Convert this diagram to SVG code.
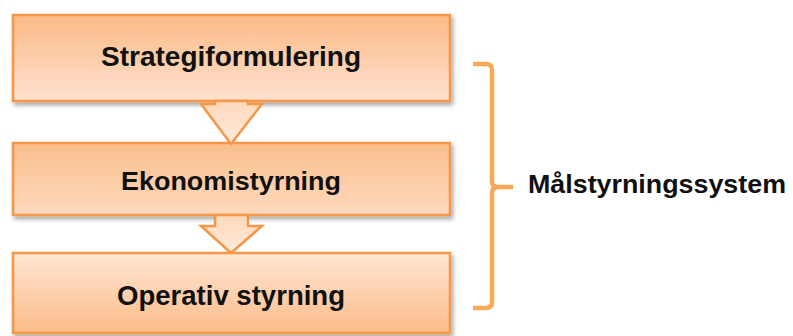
<svg xmlns="http://www.w3.org/2000/svg" width="793" height="336" viewBox="0 0 793 336">
  <style>
    .box { stroke: #F79646; stroke-width: 2.5; filter: url(#sh); }
    .arrow { fill: url(#ga); stroke: #F79646; stroke-width: 2.5; stroke-linejoin: miter; }
    .lbl { font-family: "Liberation Sans", Arial, sans-serif; font-weight: bold; fill: #111; text-anchor: middle; }
    .brace { fill: none; stroke: #F9A856; stroke-width: 4.5; stroke-linecap: butt; stroke-linejoin: round; }
  </style>
  <defs>
    <filter id="sh" x="-5%" y="-10%" width="115%" height="130%">
      <feDropShadow dx="2" dy="3" stdDeviation="2" flood-color="#000" flood-opacity="0.35"/>
    </filter>
    <linearGradient id="g1" x1="0" y1="0" x2="0" y2="1">
      <stop offset="0" stop-color="#FCBA85"/>
      <stop offset="1" stop-color="#FEE2CF"/>
    </linearGradient>
    <linearGradient id="g2" x1="0" y1="0" x2="0" y2="1">
      <stop offset="0" stop-color="#FBBE8C"/>
      <stop offset="1" stop-color="#FDDABF"/>
    </linearGradient>
    <linearGradient id="g3" x1="0" y1="0" x2="0" y2="1">
      <stop offset="0" stop-color="#FEE5D3"/>
      <stop offset="1" stop-color="#FCBC89"/>
    </linearGradient>
    <linearGradient id="ga" x1="0" y1="0" x2="0" y2="1">
      <stop offset="0" stop-color="#FDD9BD"/>
      <stop offset="1" stop-color="#FEEADB"/>
    </linearGradient>
  </defs>

  <g id="node-strategi">
    <rect class="box" x="13" y="15" width="437" height="86" fill="url(#g1)"/>
    <text class="lbl" x="231" y="66" font-size="28" textLength="260" lengthAdjust="spacingAndGlyphs">Strategiformulering</text>
  </g>

  <g id="node-ekonomi">
    <rect class="box" x="13" y="143" width="437" height="72" fill="url(#g2)"/>
    <text class="lbl" x="231" y="190" font-size="26" textLength="220" lengthAdjust="spacingAndGlyphs">Ekonomistyrning</text>
  </g>

  <g id="node-operativ">
    <rect class="box" x="13" y="253" width="437" height="80" fill="url(#g3)"/>
    <text class="lbl" x="231" y="305" font-size="28" textLength="228" lengthAdjust="spacingAndGlyphs">Operativ styrning</text>
  </g>

  <g id="connectors">
    <polygon class="arrow" points="215,101 248,101 248,104 262,104 231,144 201,104 215,104"/>
    <polygon class="arrow" points="215,215 248,215 248,226 262,226 231,253 201,226 215,226"/>
  </g>

  <g id="brace-malstyrning">
    <path class="brace" d="M473,64 L486,64 Q492,64 492,70 L492,181 Q492,187 498,187 L513,187 M498,187 Q492,187 492,193 L492,302 Q492,308 486,308 L473,308"/>
    <text class="lbl" x="657" y="193" font-size="26" textLength="258" lengthAdjust="spacingAndGlyphs">Målstyrningssystem</text>
  </g>
</svg>
